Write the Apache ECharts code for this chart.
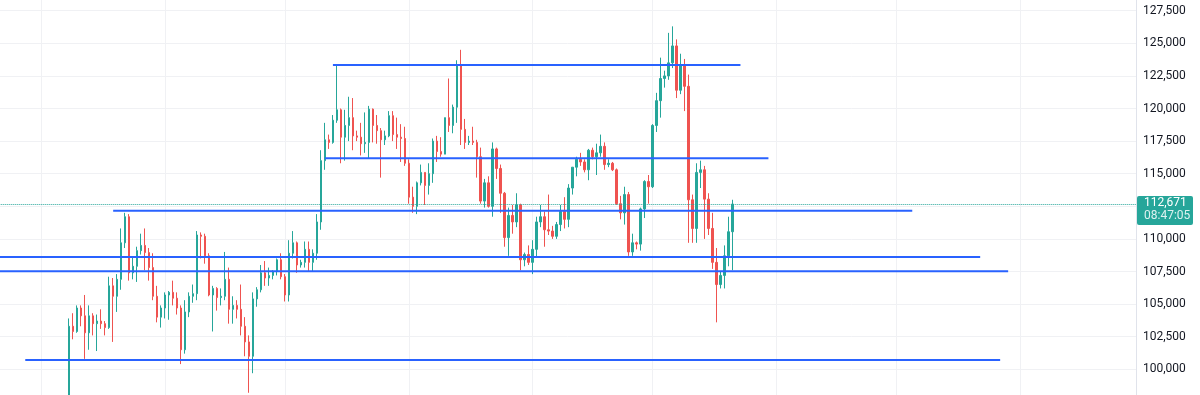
<!DOCTYPE html>
<html><head><meta charset="utf-8">
<script src="https://cdn.jsdelivr.net/npm/echarts@6/dist/echarts.min.js"></script>
<style>html,body{margin:0;padding:0;background:#ffffff;overflow:hidden}#c{width:1200px;height:395px}</style>
</head><body><div id="c"></div>
<script>
// ---- data ----
const firstCandle = '2025-05-08';
const leadDays = 18;
const tailDays = 101;
const opens = [96800,103300,102900,104700,104100,102800,104100,103500,103700,103500,
103200,106400,105600,106900,109700,111700,107400,107900,109100,109500,
108950,107800,105600,104000,104700,105700,105900,105450,104700,101500,
104400,105600,105800,110300,110200,108700,105700,106200,105500,105600,
106900,104600,104900,104600,103300,102100,101000,105400,106100,107400,
107000,107200,107500,108400,107100,105700,108900,109700,108000,108200,
109200,108200,108900,111300,116000,117600,117400,119100,119900,117800,
118700,119300,117900,117800,117300,117400,119950,118700,118300,117600,
117900,119450,118000,117800,117700,115800,113200,112500,114300,115100,
114100,115000,117500,116700,116500,119300,118700,120100,123300,118400,
117400,117500,117400,116300,112900,114300,112500,116900,115400,113500,
110100,111800,111300,112600,108400,108800,108200,109200,111300,111700,
110700,110600,110200,111100,112100,111500,113900,115500,116100,115900,
115300,116800,116300,116600,117100,115700,115800,115300,112700,112000,
113400,109000,109700,109600,112300,114400,114000,118700,120600,122300,
122500,123500,124800,121400,123300,121700,113000,110800,115100,115300,
113050,110800,108200,106500,107200,108700,110550];
const highs = [103900,104300,104900,104900,105700,104900,104300,104200,104600,103700,
107100,107000,107300,110800,112000,111900,108600,109400,110400,110800,
109300,108900,106400,104900,105900,106000,106800,105900,104900,105300,
105900,106500,110600,110500,110400,108900,106400,106300,106200,109000,
107800,105600,105300,106500,104000,102600,105900,106300,108000,108300,
107800,107600,108500,108900,107300,109900,110600,109800,108400,109800,
109800,109200,111900,116800,118900,118000,119500,123300,120000,119900,
120900,120800,118300,118900,119700,120200,120000,119500,118500,118300,
119800,119800,119300,118800,118600,116100,114000,114400,115700,115100,
115800,117700,117900,117800,119300,122300,120300,123700,124500,119200,
117900,118600,117600,117000,114600,114800,117400,117000,115700,113600,
112400,112600,113500,112700,108950,109500,109900,111700,112600,112100,
113400,111000,111300,112600,113200,114200,115500,116300,116600,116100,
116900,117000,117300,118000,117400,116100,115900,115400,113300,114000,
113600,110400,109800,112400,114500,114900,118800,121200,123900,122900,
125800,126300,125300,124200,123800,122600,113400,115800,116000,115600,
113500,112000,109300,107500,109500,111700,113000];
const lows = [96000,102300,102800,103300,100800,101500,102600,101400,103100,102600,
103100,102100,104400,106100,109300,106800,106900,106700,108800,107600,
106800,105300,103600,103200,103900,103800,104900,104200,100400,101200,
104000,105100,105300,108500,108100,105600,102900,104500,104900,105300,
103500,103500,103900,102600,101000,98200,99700,104800,105900,106400,
106400,106900,107200,106900,105200,105200,108500,107400,107800,107800,
107500,107500,108400,110700,115300,116900,117300,118900,115800,116000,
117500,116800,117500,116400,116600,116200,117400,117300,114700,117200,
117800,117500,116900,115900,115600,112700,112000,111900,114100,112600,
113400,114300,115900,116300,116500,118200,118100,118900,117200,116900,
117200,117200,114700,112700,112400,112400,111700,114600,112000,109400,
108700,110400,110900,107600,107900,108000,107300,108600,110900,109400,
110300,110000,110000,110600,110800,110900,113400,114800,115600,115100,
114500,116100,114900,116300,115300,115500,115200,112600,111500,111100,
108700,108700,109200,109100,111600,112700,113900,118200,119300,121600,
122200,123100,120800,121100,119800,109700,109700,109700,113900,110000,
110300,107700,103600,106200,106200,107900,107600];
const closes = [103300,102900,104700,104100,102800,104100,103500,103700,103500,103200,
106400,105600,106900,109700,111700,107400,107900,109100,109500,108950,
107800,105600,104000,104700,105700,105900,105450,104700,101500,104400,
105600,105800,110300,110200,108700,105700,106200,105500,105600,106900,
104600,104900,104600,103300,102100,101000,105400,106100,107400,107000,
107200,107500,108400,107100,105700,108900,109700,108000,108200,109200,
108200,108900,111300,116000,117600,117400,119100,119900,117800,118700,
119300,117900,117800,117300,117400,119950,118700,118300,117600,117900,
119450,118000,117800,117700,115800,113200,112500,114300,115100,114100,
115000,117500,116700,116500,119300,118700,120100,123300,118400,117400,
117500,117400,116300,112900,114300,112500,116900,115400,113500,110100,
111800,111300,112600,108400,108800,108200,109200,111300,111700,110700,
110600,110200,111100,112100,111500,113900,115500,116100,115900,115300,
116800,116300,116600,117100,115700,115800,115300,112700,112000,113400,
109000,109700,109600,112300,114400,114000,118700,120600,122300,122500,
123500,124800,121400,123300,121700,113000,110800,115100,115300,113050,
110800,108200,106500,107200,108700,110550,112671];

// drawn horizontal levels (price, first date, last date)
const levelPrices = [123330, 116180, 112160, 108610, 107510, 100710];
const levelStarts = ['2025-07-13','2025-07-11','2025-05-19','2025-04-20','2025-04-20','2025-04-27'];
const levelEnds   = ['2025-10-23','2025-10-30','2025-12-05','2025-12-22','2025-12-29','2025-12-27'];

// price axis
const yMin = 97500, yMax = 130000, yStep = 2500;
const hiddenTickLabels = [112500];
const countdownText = '08:47:05';

// ---- build ----
function addDays(iso, n) {
  const d = new Date(iso + 'T00:00:00Z');
  d.setUTCDate(d.getUTCDate() + n);
  return d.toISOString().slice(0, 10);
}
function fmt(v) {
  return String(Math.round(v)).replace(/\B(?=(\d{3})+(?!\d))/g, ',');
}
const categories = [];
for (let k = -leadDays; k < opens.length + tailDays; k++) categories.push(addDays(firstCandle, k));
const candleData = opens.map((o, i) => [addDays(firstCandle, i), o, closes[i], lows[i], highs[i]]);
const currentPrice = closes[closes.length - 1];

const UP = '#26a69a', DOWN = '#ef5350', BLUE = '#2962ff', GRID = '#f0f1f4';

const levelSeries = levelPrices.map((p, i) => ({
  type: 'line', silent: true, z: 5, symbol: 'none', animation: false,
  lineStyle: { color: BLUE, width: 2 },
  data: [[levelStarts[i], p], [levelEnds[i], p]]
}));

const chart = echarts.init(document.getElementById('c'), null, { renderer: 'canvas' });
chart.setOption({
  animation: false,
  backgroundColor: '#ffffff',
  grid: { left: -2.7, right: 64, top: -21.9, bottom: -6.9, containLabel: false, outerBoundsMode: 'none' },
  xAxis: {
    type: 'category', data: categories, boundaryGap: false,
    axisLine: { show: false }, axisTick: { show: false }, axisLabel: { show: false },
    splitLine: { show: true, interval: (idx, val) => String(val).slice(8) === '01',
      lineStyle: { color: GRID, width: 1 } }
  },
  yAxis: {
    type: 'value', position: 'right', min: yMin, max: yMax, interval: yStep,
    axisLine: { show: true, lineStyle: { color: '#e0e3eb', width: 1 } },
    axisTick: { show: false },
    splitLine: { show: true, lineStyle: { color: GRID, width: 1 } },
    axisLabel: {
      margin: 7, color: '#131722', fontSize: 12, fontFamily: 'Roboto',
      formatter: v => hiddenTickLabels.includes(v) ? '' : fmt(v)
    }
  },
  series: [{
    type: 'candlestick', z: 3,
    encode: { x: 0, y: [1, 2, 3, 4] },
    data: candleData,
    barWidth: 2,
    itemStyle: { color: UP, color0: DOWN, borderColor: UP, borderColor0: DOWN, borderWidth: 1 },
    markLine: {
      silent: true, symbol: ['none', 'none'], animation: false,
      label: { show: false },
      lineStyle: { color: UP, type: 'dotted', width: 1 },
      data: [{ yAxis: currentPrice }]
    }
  }].concat(levelSeries)
});

const py = chart.convertToPixel({ yAxisIndex: 0 }, currentPrice);
chart.setOption({
  graphic: [{
    type: 'group', z: 100, x: 1137, y: py - 8,
    children: [
      { type: 'rect', shape: { x: 0, y: 0, width: 56, height: 29, r: 2 }, style: { fill: UP } },
      { type: 'text', x: 7, y: 7, style: { text: fmt(currentPrice), fill: '#ffffff',
        font: '12px Roboto', verticalAlign: 'middle', align: 'left' } },
      { type: 'text', x: 7, y: 19.5, style: { text: countdownText, fill: 'rgba(255,255,255,0.85)',
        font: '12px Roboto', verticalAlign: 'middle', align: 'left' } }
    ]
  }]
});
</script>
</body></html>
